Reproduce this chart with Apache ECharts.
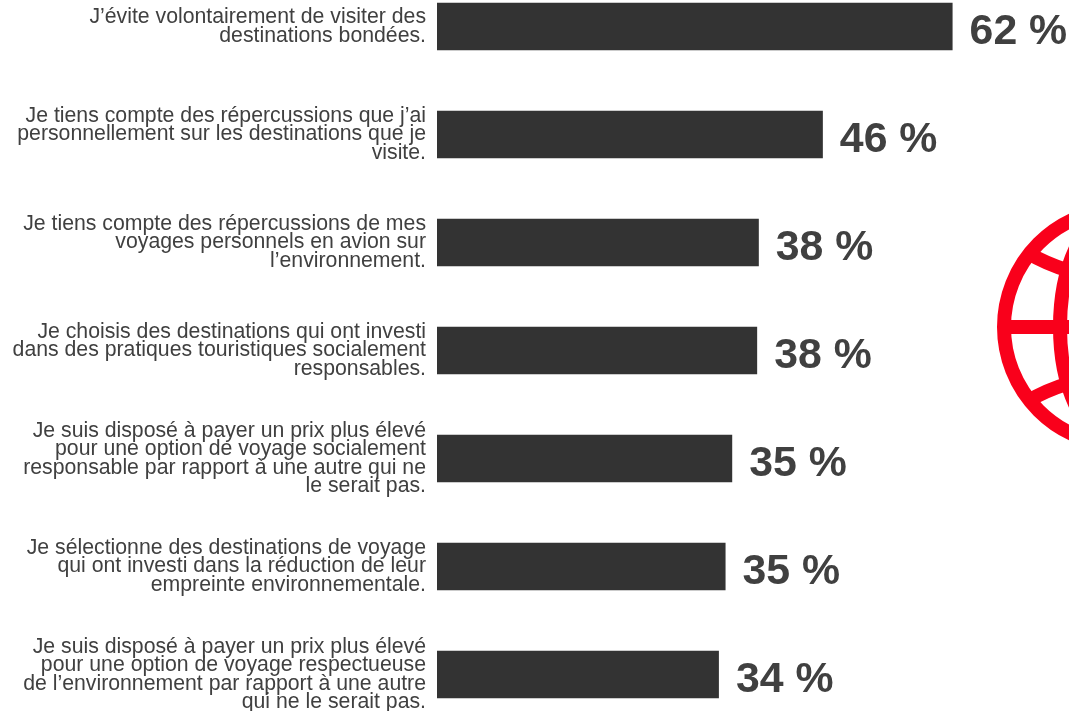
<!DOCTYPE html>
<html><head><meta charset="utf-8">
<style>html,body{margin:0;padding:0;background:#fff}#c{width:1069px;height:711px}</style>
<script src="https://cdn.jsdelivr.net/npm/echarts@6/dist/echarts.min.js"></script>
</head><body><div id="c"></div>
<script>
const categories = [
"J’évite volontairement de visiter des\ndestinations bondées.",
"Je tiens compte des répercussions que j’ai\npersonnellement sur les destinations que je\nvisite.",
"Je tiens compte des répercussions de mes\nvoyages personnels en avion sur\nl’environnement.",
"Je choisis des destinations qui ont investi\ndans des pratiques touristiques socialement\nresponsables.",
"Je suis disposé à payer un prix plus élevé\npour une option de voyage socialement\nresponsable par rapport à une autre qui ne\nle serait pas.",
"Je sélectionne des destinations de voyage\nqui ont investi dans la réduction de leur\nempreinte environnementale.",
"Je suis disposé à payer un prix plus élevé\npour une option de voyage respectueuse\nde l’environnement par rapport à une autre\nqui ne le serait pas."
];
const barValues = [62, 46.4, 38.7, 38.5, 35.5, 34.7, 33.9];
const valueLabels = ["62 %","46 %","38 %","38 %","35 %","35 %","34 %"];
const RED = "#f9001b";
const chart = echarts.init(document.getElementById('c'), null, {renderer:'canvas'});
chart.setOption({
  animation:false,
  backgroundColor:'#fff',
  grid:{left:437,right:0,top:26.5,height:648,containLabel:false,outerBoundsMode:'none'},
  xAxis:{type:'value',min:0,max:76,show:false},
  yAxis:{type:'category',inverse:true,boundaryGap:false,data:categories,
    axisLine:{show:false},axisTick:{show:false},splitLine:{show:false},
    axisLabel:{margin:11,align:'right',interval:0,fontFamily:'Liberation Sans',fontSize:21.25,lineHeight:18.3,padding:[0,0,5,0],color:'#404040'}},
  series:[{type:'bar',data:barValues,barWidth:47.5,clip:false,
    itemStyle:{color:'#333333'},
    label:{show:true,position:'right',distance:17,offset:[0,6],fontFamily:'Liberation Sans',fontWeight:'bold',fontSize:42.8,color:'#404040',
      formatter:p=>valueLabels[p.dataIndex]}}],
  graphic:[
    {type:'circle',silent:true,shape:{cx:1122,cy:327,r:118},style:{fill:'none',stroke:RED,lineWidth:14}},
    {type:'ellipse',silent:true,shape:{cx:1122,cy:327,rx:62,ry:118},style:{fill:'none',stroke:RED,lineWidth:14}},
    {type:'line',silent:true,shape:{x1:1004,y1:327,x2:1069,y2:327},style:{stroke:RED,lineWidth:14}},
    {type:'bezierCurve',silent:true,shape:{x1:1028,y1:253,cpx1:1050,cpy1:266,cpx2:1085,cpy2:279,x2:1122,y2:279},style:{fill:'none',stroke:RED,lineWidth:14}},
    {type:'bezierCurve',silent:true,shape:{x1:1028,y1:401,cpx1:1050,cpy1:388,cpx2:1085,cpy2:375,x2:1122,y2:375},style:{fill:'none',stroke:RED,lineWidth:14}}
  ]
});
</script></body></html>
